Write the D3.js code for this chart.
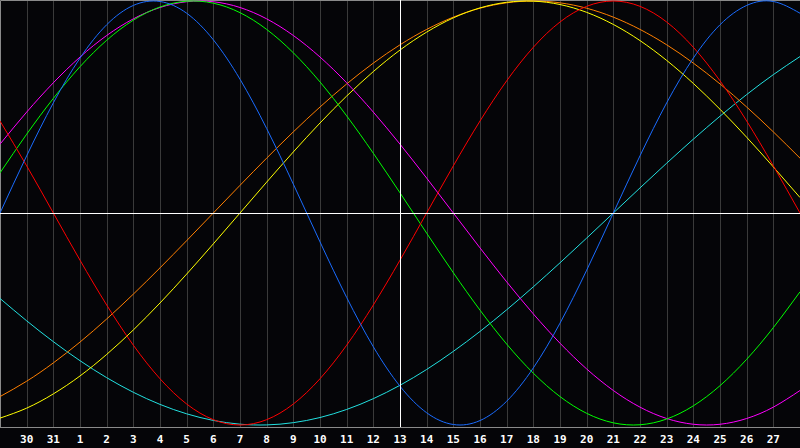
<!DOCTYPE html>
<html>
<head>
<meta charset="utf-8">
<script src="https://cdn.jsdelivr.net/npm/d3@7"></script>
<style>
  html, body { margin: 0; padding: 0; background: #050508; }
  svg { display: block; }
</style>
</head>
<body>
<script>
// Chart size
let width = 800;
let height = 448;
let plotBottom = 427;

// Day labels, one per column (index 0 and 30 sit on the edges and are not printed)
let dayLabels = ["29", "30", "31", "1", "2", "3", "4", "5", "6", "7", "8", "9", "10", "11", "12",
  "13", "14", "15", "16", "17", "18", "19", "20", "21", "22", "23", "24", "25", "26", "27", "28"];
let todayIndex = 15;

// Cycle values, one per day
let physical = [0, 0.2698, 0.5196, 0.7308, 0.8879, 0.9791, 0.9977, 0.9423, 0.8170, 0.6311, 0.3984,
  0.1362, -0.1362, -0.3984, -0.6311, -0.8170, -0.9423, -0.9977, -0.9791, -0.8879, -0.7308, -0.5196,
  -0.2698, 0, 0.2698, 0.5196, 0.7308, 0.8879, 0.9791, 0.9977, 0.9423];
let emotional = [0.4339, 0.2225, 0, -0.2225, -0.4339, -0.6235, -0.7818, -0.9010, -0.9749, -1, -0.9749,
  -0.9010, -0.7818, -0.6235, -0.4339, -0.2225, 0, 0.2225, 0.4339, 0.6235, 0.7818, 0.9010, 0.9749, 1,
  0.9749, 0.9010, 0.7818, 0.6235, 0.4339, 0.2225, 0];
let intellectual = [0.1893, 0.3717, 0.5406, 0.6901, 0.8146, 0.9096, 0.9718, 0.9989, 0.9898, 0.9450,
  0.8660, 0.7557, 0.6182, 0.4582, 0.2817, 0.0951, -0.0951, -0.2817, -0.4582, -0.6182, -0.7557, -0.8660,
  -0.9450, -0.9898, -0.9989, -0.9718, -0.9096, -0.8146, -0.6901, -0.5406, -0.3717];
let intuitive = [0.3247, 0.4759, 0.6142, 0.7357, 0.8372, 0.9158, 0.9694, 0.9966, 0.9966, 0.9694, 0.9158,
  0.8372, 0.7357, 0.6142, 0.4759, 0.3247, 0.1646, 0, -0.1646, -0.3247, -0.4759, -0.6142, -0.7357, -0.8372,
  -0.9158, -0.9694, -0.9966, -0.9966, -0.9694, -0.9158, -0.8372];
let aesthetic = [-0.9675, -0.9204, -0.8533, -0.7687, -0.6671, -0.5517, -0.4245, -0.2881, -0.1456, 0,
  0.1456, 0.2881, 0.4245, 0.5517, 0.6671, 0.7687, 0.8533, 0.9204, 0.9675, 0.9940, 0.9993, 0.9834, 0.9465,
  0.8894, 0.8133, 0.7198, 0.6111, 0.4894, 0.3572, 0.2174, 0.0730];
let awareness = [-0.8660, -0.7934, -0.7071, -0.6088, -0.5, -0.3827, -0.2588, -0.1305, 0, 0.1305, 0.2588,
  0.3827, 0.5, 0.6088, 0.7071, 0.7934, 0.8660, 0.9239, 0.9659, 0.9914, 1, 0.9914, 0.9659, 0.9239, 0.8660,
  0.7934, 0.7071, 0.6088, 0.5, 0.3827, 0.2588];
let spiritual = [-0.4031, -0.5085, -0.6069, -0.6967, -0.7767, -0.8457, -0.9028, -0.9473, -0.9785, -0.9961,
  -0.9996, -0.9890, -0.9647, -0.9267, -0.8758, -0.8126, -0.7380, -0.6527, -0.5586, -0.4566, -0.3482,
  -0.2349, -0.1183, 0, 0.1183, 0.2349, 0.3482, 0.4566, 0.5586, 0.6527, 0.7380];

// Series in drawing order with their line colours
let series = [
  { name: "spiritual", values: spiritual, color: "#22e0e0" },
  { name: "awareness", values: awareness, color: "#ff7f00" },
  { name: "aesthetic", values: aesthetic, color: "#ffff00" },
  { name: "intuitive", values: intuitive, color: "#ff00ff" },
  { name: "intellectual", values: intellectual, color: "#00ff00" },
  { name: "emotional", values: emotional, color: "#ff0000" },
  { name: "physical", values: physical, color: "#1a6cff" }
];

let svg = d3.select("body")
  .append("svg")
  .attr("width", width)
  .attr("height", height);

svg.append("rect")
  .attr("width", width)
  .attr("height", height)
  .attr("fill", "#050508");

// Scales
let x = d3.scaleLinear()
  .domain([0, dayLabels.length - 1])
  .range([0, width]);

let y = d3.scaleLinear()
  .domain([-1, 1])
  .range([425, 1]);

// Vertical day grid
let gridIdx = d3.range(1, dayLabels.length - 1);
svg.append("g")
  .selectAll("line")
  .data(gridIdx)
  .enter()
  .append("line")
  .attr("x1", d => Math.round(x(d)) + 0.5)
  .attr("x2", d => Math.round(x(d)) + 0.5)
  .attr("y1", 0)
  .attr("y2", plotBottom)
  .attr("stroke", "#3a3a3a")
  .attr("stroke-width", 1);

// Frame (top, left, bottom)
svg.append("path")
  .attr("d", `M0.5,${plotBottom + 0.5}V0.5H${width}M0,${plotBottom + 0.5}H${width}`)
  .attr("fill", "none")
  .attr("stroke", "#8a8a8a")
  .attr("stroke-width", 1);

// Curves
let line = d3.line()
  .x((d, i) => x(i))
  .y(d => y(d))
  .curve(d3.curveNatural);

svg.append("g")
  .selectAll("path")
  .data(series)
  .enter()
  .append("path")
  .attr("d", d => line(d.values))
  .attr("fill", "none")
  .attr("stroke", d => d.color)
  .attr("stroke-width", 1);

// Zero line and today marker
svg.append("line")
  .attr("x1", 0)
  .attr("x2", width)
  .attr("y1", Math.round(y(0)) + 0.5)
  .attr("y2", Math.round(y(0)) + 0.5)
  .attr("stroke", "#ffffff");

svg.append("line")
  .attr("x1", Math.round(x(todayIndex)) + 0.5)
  .attr("x2", Math.round(x(todayIndex)) + 0.5)
  .attr("y1", 0)
  .attr("y2", plotBottom)
  .attr("stroke", "#ffffff");

// Day labels
svg.append("g")
  .selectAll("text")
  .data(gridIdx)
  .enter()
  .append("text")
  .attr("x", d => x(d))
  .attr("y", 443)
  .attr("text-anchor", "middle")
  .attr("fill", "#ffffff")
  .style("font-family", "'DejaVu Sans Mono', monospace")
  .style("font-weight", "bold")
  .style("font-size", "11px")
  .text(d => dayLabels[d]);
</script>
</body>
</html>
